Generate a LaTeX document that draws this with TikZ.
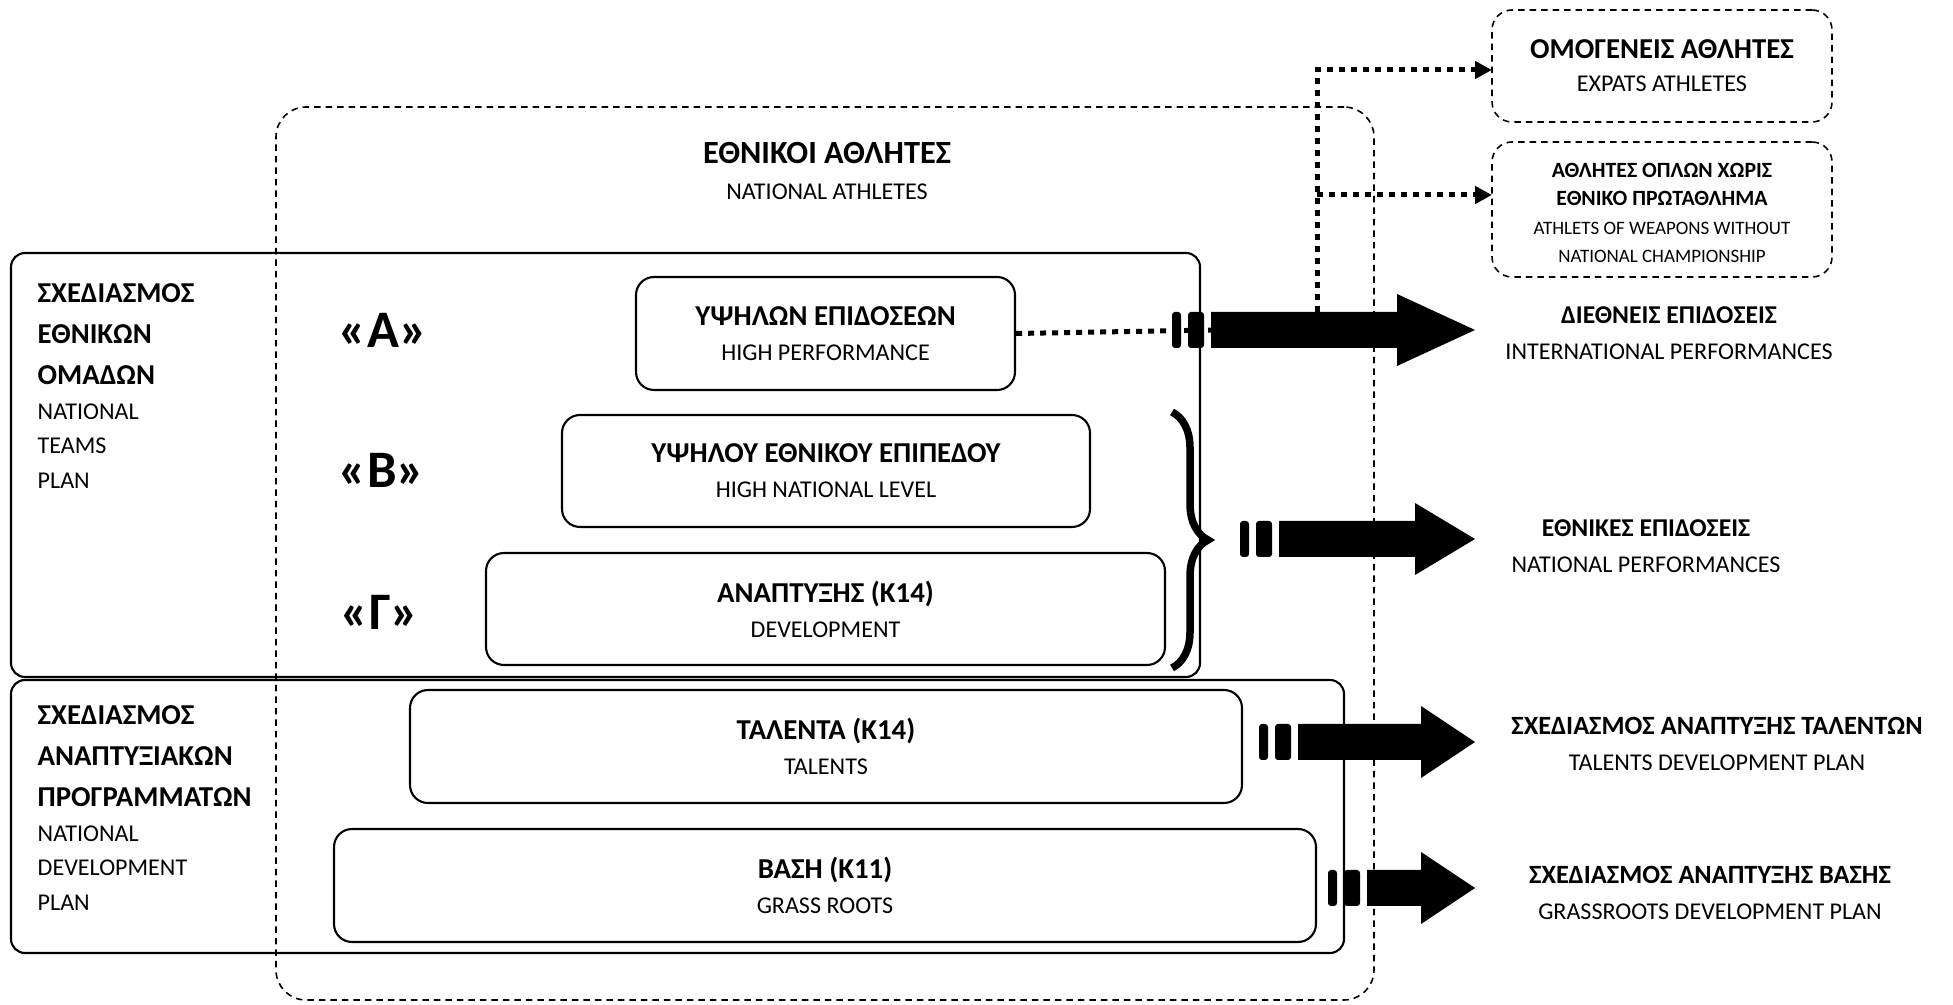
\documentclass[tikz,border=0pt]{standalone}
\usepackage{fontspec}
\setmainfont{Carlito}
\usetikzlibrary{arrows.meta,decorations.pathreplacing}

\newcommand{\gk}[2][8.2]{{\fontsize{#1}{10.4}\selectfont\bfseries #2}}

\begin{document}
\begin{tikzpicture}[x=0.1mm, y=-0.1mm,
    box/.style={draw, line width=0.6pt, rounded corners=1.8mm, inner sep=0, align=center, font=\fontsize{6.85}{10}\selectfont},
    grp/.style={draw, line width=0.6pt, rounded corners=1.4mm, inner sep=0},
    dbox/.style={draw, line width=0.45pt, dash pattern=on 0.65mm off 0.5mm, rounded corners=2mm, inner sep=0, align=center, font=\fontsize{6.85}{9.4}\selectfont},
    lbl/.style={inner sep=0, align=center, font=\fontsize{6.85}{10.4}\selectfont},
    side/.style={inner sep=0, align=left, anchor=north west, font=\fontsize{6.85}{9.8}\selectfont},
    lvl/.style={inner sep=0, font=\fontsize{15}{17}\selectfont\bfseries},
    dots/.style={line width=0.5mm, dash pattern=on 0.6mm off 0.6mm},
    tip/.style={-{Triangle[length=1.7mm,width=1.7mm]}}]
    \useasboundingbox (0,0) rectangle (1953,1005);
    % #1 name, #2 stripes x, #3 head x, #4 y
    \def\fatarrow#1#2#3#4{%
        \fill[rounded corners=0.3mm] (#2,#4-18) rectangle (#2+9,#4+18);
        \fill[rounded corners=0.3mm] (#2+16,#4-18) rectangle (#2+32,#4+18);
        \fill (#2+39,#4-18) -- (#3,#4-18) -- (#3,#4-36) -- (1475,#4) -- (#3,#4+36) -- (#3,#4+18) -- (#2+39,#4+18) -- cycle;
        \coordinate (#1) at (#2+39,#4);}

    % national athletes
    \node[draw, line width=0.45pt, dash pattern=on 0.65mm off 0.5mm, rounded corners=3mm, minimum width=109.8mm, minimum height=89.3mm] (natbox) at (825,553.5) {};
    \node[lbl] (nattxt) at (827,171) {\gk[9.2]{ΕΘΝΙΚΟΙ ΑΘΛΗΤΕΣ}\\NATIONAL ATHLETES};

    % the two plans
    \node[grp, minimum width=118.9mm, minimum height=42.4mm] (teams) at (605.5,465) {};
    \node[grp, minimum width=133.3mm, minimum height=27.3mm] (devp) at (677.5,816.5) {};
    \node[side] (teamslbl) at (37,283) {\gk{ΣΧΕΔΙΑΣΜΟΣ}\\[1.9pt]\gk{ΕΘΝΙΚΩΝ}\\[1.9pt]\gk{ΟΜΑΔΩΝ}\\NATIONAL\\TEAMS\\PLAN};
    \node[side] (devlbl) at (37,705) {\gk{ΣΧΕΔΙΑΣΜΟΣ}\\[1.9pt]\gk{ΑΝΑΠΤΥΞΙΑΚΩΝ}\\[1.9pt]\gk{ΠΡΟΓΡΑΜΜΑΤΩΝ}\\NATIONAL\\DEVELOPMENT\\PLAN};

    % levels
    \node[lvl] (lva) at (383,330) {«Α»};
    \node[lvl] (lvb) at (382,470) {«Β»};
    \node[lvl] (lvc) at (380,612) {«Γ»};
    \node[box, minimum width=37.9mm, minimum height=11.3mm] (hp) at (825.5,333.5) {\gk{ΥΨΗΛΩΝ ΕΠΙΔΟΣΕΩΝ}\\HIGH PERFORMANCE};
    \node[box, minimum width=52.8mm, minimum height=11.2mm] (hn) at (826,471) {\gk{ΥΨΗΛΟΥ ΕΘΝΙΚΟΥ ΕΠΙΠΕΔΟΥ}\\HIGH NATIONAL LEVEL};
    \node[box, minimum width=67.9mm, minimum height=11.2mm] (dv) at (825.5,609) {\gk{ΑΝΑΠΤΥΞΗΣ (Κ14)}\\DEVELOPMENT};
    \node[box, minimum width=83.2mm, minimum height=11.3mm] (tl) at (826,746.5) {\gk{ΤΑΛΕΝΤΑ (Κ14)}\\TALENTS};
    \node[box, minimum width=98.2mm, minimum height=11.3mm] (gr) at (825,885.5) {\gk{ΒΑΣΗ (Κ11)}\\GRASS ROOTS};
    \draw[line width=0.75mm, decorate, decoration={brace, amplitude=3.6mm}] (1172,412) -- (1172,668);

    % outcomes
    \node[dbox, minimum width=34mm, minimum height=11.2mm] (expat) at (1662,66) {\gk{ΟΜΟΓΕΝΕΙΣ ΑΘΛΗΤΕΣ}\\EXPATS ATHLETES};
    \node[dbox, minimum width=34mm, minimum height=13.5mm, font=\fontsize{5.4}{8}\selectfont] (weapons) at (1662,209.5) {};
    \node[inner sep=0, align=center, font=\fontsize{5.4}{8.1}\selectfont] (wptxt) at (1662,213) {{\fontsize{6.2}{8}\selectfont\bfseries ΑΘΛΗΤΕΣ ΟΠΛΩΝ ΧΩΡΙΣ}\\{\fontsize{6.2}{8}\selectfont\bfseries ΕΘΝΙΚΟ ΠΡΩΤΑΘΛΗΜΑ}\\ATHLETS OF WEAPONS WITHOUT\\NATIONAL CHAMPIONSHIP};
    \node[lbl] (intltxt) at (1669,333) {\gk[7.3]{ΔΙΕΘΝΕΙΣ ΕΠΙΔΟΣΕΙΣ}\\INTERNATIONAL PERFORMANCES};
    \node[lbl] (natltxt) at (1646,546) {\gk[7.3]{ΕΘΝΙΚΕΣ ΕΠΙΔΟΣΕΙΣ}\\NATIONAL PERFORMANCES};
    \node[lbl] (tltxt) at (1717,744) {\gk[7.5]{ΣΧΕΔΙΑΣΜΟΣ ΑΝΑΠΤΥΞΗΣ ΤΑΛΕΝΤΩΝ}\\TALENTS DEVELOPMENT PLAN};
    \node[lbl] (grtxt) at (1710,893) {\gk[7.5]{ΣΧΕΔΙΑΣΜΟΣ ΑΝΑΠΤΥΞΗΣ ΒΑΣΗΣ}\\GRASSROOTS DEVELOPMENT PLAN};

    % dotted links
    \draw[dots] (hp.east) -- (1215,330);
    \fatarrow{intl}{1172}{1397}{330}
    \fatarrow{natl}{1240}{1415}{539}
    \fatarrow{talent}{1259}{1421}{742}
    \fatarrow{grass}{1328}{1421}{888}
    \coordinate (split) at (1317,312);
    \coordinate (xpin) at (1492,70);
    \coordinate (wpin) at (1492,195);
    \draw[dots, tip] (split) |- (xpin);
    \draw[dots, tip] (split |- wpin) -- (wpin);
\end{tikzpicture}
\end{document}
